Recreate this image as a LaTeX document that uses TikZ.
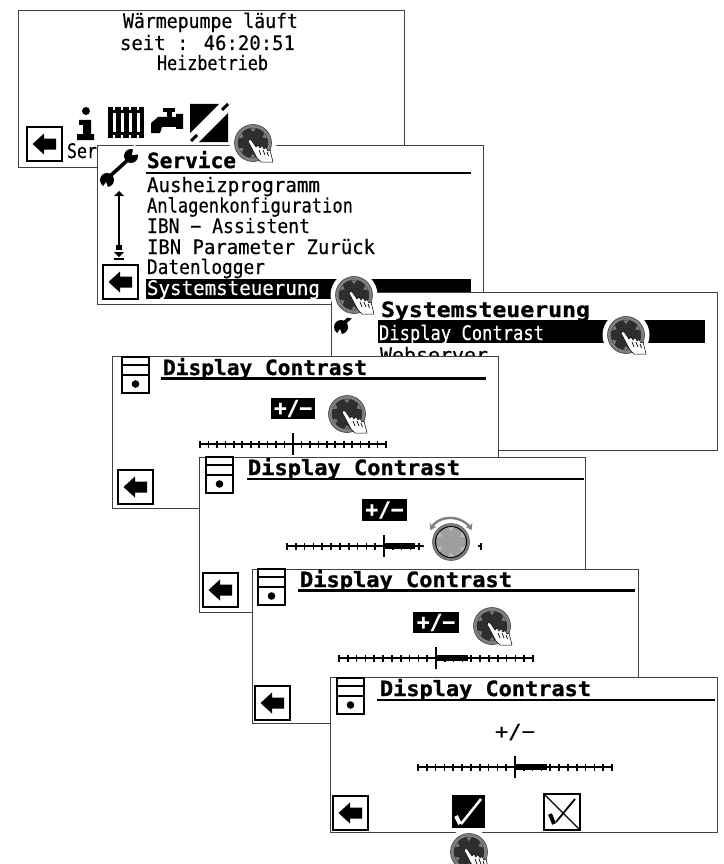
\documentclass[tikz,border=0pt]{standalone}
\usepackage{fontspec}
\usepackage{graphicx}
\newfontfamily\lcdreg[FakeBold=0.35]{DejaVu Sans Mono}
\newfontfamily\lcdhead[FakeBold=1.0]{DejaVu Sans Mono Bold}
\usetikzlibrary{arrows.meta}
\newsavebox\fitbox
\newcommand\fitx[2]{\sbox\fitbox{#2}\pgfmathsetmacro\fitr{#1/\the\wd\fitbox}\scalebox{\fitr}[1]{\usebox\fitbox}}
\tikzset{
  screenframe/.style={draw=black!75,fill=white,line width=0.9pt},
  lcd/.style={inner sep=0pt,outer sep=0pt,anchor=base west,font=\lcdreg\fontsize{20}{20}\selectfont},
  lcdb/.style={inner sep=0pt,outer sep=0pt,anchor=base west,font=\lcdhead\fontsize{21}{21}\selectfont},
  inv/.style={text=white},
  rulebar/.style={line width=2.4pt,draw=black},
  ticksl/.style={line width=1.6pt,draw=black},
  iconline/.style={line width=1.9pt,draw=black},
  halo/.style={fill=white,draw=none}
}
\newcommand\screenbox[5]{\path[screenframe] (#2,#3) rectangle (#4,#5) coordinate (#1);}
\newcommand\backbtn[2]{\begin{scope}[shift={(#1,#2)}]
  \draw[line width=2.4pt,fill=white] (1,1) rectangle (36,35);
  \fill (6.5,18) -- (18,7.5) -- (18,12.5) -- (30,12.5) -- (30,23.5) -- (18,23.5) -- (18,28.5) -- cycle;
\end{scope}}
\newcommand\unitbox[2]{\begin{scope}[shift={(#1,#2)}]
  \draw[iconline,fill=white] (0,0) rectangle (27,36);
  \draw[iconline] (0,8) -- (27,8) (0,18) -- (27,18);
  \fill (13.5,27) circle[radius=3.8];
\end{scope}}
\newcommand\wrenchicon[2]{\begin{scope}[shift={(#1,#2)}]
  \draw[line width=3.6pt] (12,32) -- (33,13);
  \fill (34,11) circle[radius=7];
  \fill (10,35) circle[radius=7];
  \fill[white] (35,10) -- (37,-1) -- (46,9) -- cycle;
  \fill[white] (9,37) -- (2,48) -- (13,48) -- cycle;
\end{scope}}
\newcommand\slider[5]{
  \draw[ticksl] (#1,#2) -- (#3,#2);
  \pgfmathsetmacro\stepw{(#3-#1)/22}
  \foreach \k in {0,...,22} {\draw[ticksl] ({#1+\k*\stepw},#2-3.5) -- ({#1+\k*\stepw},#2+3.5);}
  \draw[line width=2pt] (#4,#2-11) -- (#4,#2+11);
  \fill (#4,#2-3) rectangle (#5,#2+3);
}
\newcommand\knobhand[3]{\coordinate (#1) at (#2,#3);
\begin{scope}[shift={(#2,#3)}]
  \fill[halo] (0,0) circle[radius=23.5];
  \fill[black!50,draw=black!75,line width=0.6pt] (0,0) circle[radius=18.5];
  \fill[black!82] (0,0) circle[radius=15.2];
  \foreach \a in {30,90,150,210,270,330} {
    \fill[black!52] (\a-11:15) -- (\a:11) -- (\a+11:15) -- cycle;
  }
  \draw[fill=white,line width=0.5pt,line join=round] (-5,-2) .. controls (-4,-4) and (-2.5,-4) .. (-1.5,-2.5)
    -- (3,4) -- (5,2) -- (7,5) -- (9,2.5) -- (11,6) -- (13,4.5) -- (15,8) -- (17,7) -- (20,19)
    -- (8,19) -- (4,15) -- cycle;
  \draw[line width=0.7pt] (6,7) -- (8,12) (10,7) -- (12,12) (14,9) -- (15.5,13);
\end{scope}}
\newcommand\knobturn[3]{\coordinate (#1) at (#2,#3);
\begin{scope}[shift={(#2,#3)}]
  \fill[halo] (0,0) circle[radius=27.5];
  \fill[black!50,draw=black!70,line width=0.5pt] (0,0) circle[radius=18.5];
  \draw[fill=black!38,line width=1pt] (0,0) circle[radius=15.5];
  \foreach \a in {30,90,150,210,270,330} {
    \fill[black!28] (\a-12:15) -- (\a:10.5) -- (\a+12:15) -- cycle;
  }
  \draw[black!50,line width=2.4pt,{Stealth[length=6pt,width=8pt]}-{Stealth[length=6pt,width=8pt]}] (-150:24) arc[start angle=-150,end angle=-30,radius=24];
\end{scope}}
\begin{document}
\begin{tikzpicture}[x=1pt,y=-1pt]
\useasboundingbox (0,0) rectangle (723,864);
\fill[white] (0,0) rectangle (723,864);
% ---------- screen 1
\screenbox{s1}{18}{10}{404}{167}
\node[lcd] (t1a) at (123,28) {\fitx{175}{Wärmepumpe läuft}};
\node[lcd] (t1b) at (120,50) {\fitx{175}{seit : 46:20:51}};
\node[lcd] (t1c) at (157,70) {\fitx{111}{Heizbetrieb}};
\backbtn{26}{126}
\node[lcd] (t1d) at (67,158) {\fitx{30}{Ser}};
% i
\fill (86,111) circle[radius=4];
\fill (79,120) -- (91,120) -- (91,134) -- (94,134) -- (94,140) -- (77,140) -- (77,134) -- (83,134) -- (83,125) -- (79,125) -- cycle;
% radiator
\fill (108,107) rectangle (144,138);
\foreach \xx in {114,122,130,138} {
  \draw[white,line width=3pt] (\xx,113) -- (\xx,132);
  \draw[white,line width=2.5pt] (\xx,107) -- (\xx,110);
  \draw[white,line width=2.5pt] (\xx,135) -- (\xx,138);
}
% tap
\fill (163,108) rectangle (175,112);
\fill (167,112) rectangle (172,117);
\fill (151,133) -- (151,123) -- (158,117) -- (176,117) -- (176,114) -- (183,114) -- (183,129) -- (176,129) -- (176,127) -- (162,127) -- (160,133) -- cycle;
% split icon
\fill (190,104) -- (219,104) -- (190,133) -- cycle;
\fill (228,113) -- (228,142) -- (199,142) -- cycle;
\draw[line width=3pt] (228,104) -- (222,110) (191,141) -- (197,135);
% ---------- screen 2
\screenbox{s2}{97}{145}{483}{304}
\wrenchicon{97}{145}
\draw[line width=2pt] (119,195) -- (119,246);
\fill (119,191) -- (124,196) -- (114,196) -- cycle;
\fill (116,245) rectangle (122,250);
\fill (114,252) -- (124,252) -- (119,257) -- cycle;
\fill (114,258) rectangle (124,260);
\backbtn{102}{264}
\node[lcdb] (t2a) at (147,168) {\fitx{89}{Service}};
\draw[rulebar] (146,173) -- (471,173);
\node[lcd] (t2b) at (147,192) {\fitx{173}{Ausheizprogramm}};
\node[lcd] (t2c) at (147,212.5) {\fitx{206}{Anlagenkonfiguration}};
\node[lcd] (t2d) at (147,233) {\fitx{163}{IBN − Assistent}};
\node[lcd] (t2e) at (147,254) {\fitx{228}{IBN Parameter Zurück}};
\node[lcd] (t2f) at (147,274) {\fitx{118}{Datenlogger}};
\fill (146,279) rectangle (471,299);
\node[lcd,inv] (t2g) at (147,295) {\fitx{173}{Systemsteuerung}};
\knobhand{k1}{253}{143}
% ---------- screen 3
\screenbox{s3}{331}{292}{717}{450}
\wrenchicon{331}{292}
\node[lcdb] (t3a) at (381,317) {\fitx{209}{Systemsteuerung}};
\fill (378,320) rectangle (705,343);
\node[lcd,inv] (t3b) at (379,340) {\fitx{165}{Display Contrast}};
\node[lcd] (t3c) at (380,362) {\fitx{108}{Webserver}};
\knobhand{k3}{626}{335}
\knobhand{k2}{354}{295}
% ---------- screen 4
\screenbox{s4}{112}{356}{498}{508}
\unitbox{122}{357}
\node[lcdb] (t4a) at (163,375) {\fitx{204}{Display Contrast}};
\draw[rulebar] (161,378.5) -- (486,378.5);
\fill (271,398) rectangle (315,419);
\node[lcdb,inv,anchor=center] (t4b) at (293,408.5) {\fitx{38}{+/−}};
\slider{200}{444}{386}{293}{293}
\backbtn{117}{469}
\knobhand{k4}{347}{414}
% ---------- screen 5
\screenbox{s5}{199}{457}{585}{612}
\unitbox{206}{457}
\node[lcdb] (t5a) at (248,475) {\fitx{212}{Display Contrast}};
\draw[rulebar] (247,479) -- (584,479);
\fill (362,499) rectangle (407,521);
\node[lcdb,inv,anchor=center] (t5b) at (384.5,510) {\fitx{38}{+/−}};
\slider{287}{546}{481}{384}{415}
\backbtn{202}{572}
\knobturn{k5}{451}{542}
% ---------- screen 6
\screenbox{s6}{252}{569}{638}{723}
\unitbox{258}{569}
\node[lcdb] (t6a) at (300,587) {\fitx{212}{Display Contrast}};
\draw[rulebar] (298,590.5) -- (635,590.5);
\fill (413,612) rectangle (459,633);
\node[lcdb,inv,anchor=center] (t6b) at (436,622.5) {\fitx{38}{+/−}};
\slider{339}{658}{533}{436}{468}
\backbtn{254}{685}
\knobhand{k6}{492}{626}
% ---------- screen 7
\screenbox{s7}{330}{677}{717}{832}
\unitbox{337}{678}
\node[lcdb] (t7a) at (380,696) {\fitx{211}{Display Contrast}};
\draw[rulebar] (377,700) -- (715,700);
\node[lcd,anchor=center] (t7b) at (515,732) {\fitx{40}{+/−}};
\slider{418}{767}{612}{515}{547}
\backbtn{332}{795}
\fill (452,795) rectangle (485,828);
\draw[white,line width=2.6pt] (461,824) -- (481,799);
\draw[white,line width=4pt] (456,816) -- (460,824);
\draw[line width=2.4pt,fill=white] (544,794) rectangle (580,830);
\draw[line width=1.3pt] (544,794) -- (580,830);
\draw[line width=1.8pt] (575,799) -- (556,822);
\draw[line width=4pt] (550,814) -- (554,824);
\knobhand{k7}{469}{852}
\end{tikzpicture}
\end{document}
